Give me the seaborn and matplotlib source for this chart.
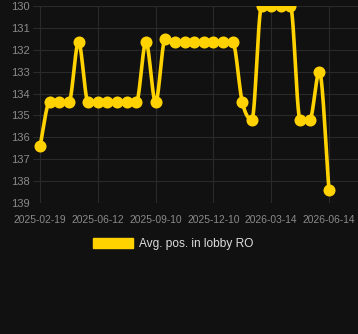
import numpy as np
import pandas as pd
import matplotlib
matplotlib.use("Agg")
import matplotlib.pyplot as plt
from matplotlib.patches import Patch
import seaborn as sns

# ---- data ----
values = [136.4, 134.4, 134.4, 134.4, 131.65, 134.4, 134.4, 134.4, 134.4, 134.4,
          134.4, 131.65, 134.4, 131.5, 131.65, 131.65, 131.65, 131.65, 131.65, 131.65,
          131.65, 134.4, 135.2, 130.0, 130.0, 130.0, 130.0, 135.2, 135.2, 133.0, 138.4]
tick_labels = ["2025-02-19", "2025-06-12", "2025-09-10", "2025-12-10", "2026-03-14", "2026-06-14"]
tick_index = [0, 6, 12, 18, 24, 30]
y_ticks = [130, 131, 132, 133, 134, 135, 136, 137, 138, 139]
series_label = "Avg. pos. in lobby RO"

BG = "#111111"
GRID = "#2a2a2a"
TXT = "#8a8a8a"
LINE = "#FFD200"


def monotone(xs, ys, n=24):
    xs = np.asarray(xs, float)
    ys = np.asarray(ys, float)
    h = np.diff(xs)
    d = np.diff(ys) / h
    m = np.zeros_like(ys)
    m[0], m[-1] = d[0], d[-1]
    for i in range(1, len(ys) - 1):
        if d[i - 1] * d[i] <= 0:
            m[i] = 0
        else:
            m[i] = (d[i - 1] + d[i]) / 2
    for i in range(len(d)):
        if d[i] == 0:
            m[i] = m[i + 1] = 0
            continue
        a, b = m[i] / d[i], m[i + 1] / d[i]
        s = a * a + b * b
        if s > 9:
            t = 3 / np.sqrt(s)
            m[i] = t * a * d[i]
            m[i + 1] = t * b * d[i]
    ox, oy = [], []
    for i in range(len(d)):
        t = np.linspace(0, 1, n, endpoint=False)
        h00 = 2 * t**3 - 3 * t**2 + 1
        h10 = t**3 - 2 * t**2 + t
        h01 = -2 * t**3 + 3 * t**2
        h11 = t**3 - t**2
        ox.extend(xs[i] + t * h[i])
        oy.extend(h00 * ys[i] + h10 * h[i] * m[i] + h01 * ys[i + 1] + h11 * h[i] * m[i + 1])
    ox.append(xs[-1])
    oy.append(ys[-1])
    return np.array(ox), np.array(oy)


idx = np.arange(len(values))
df = pd.DataFrame({"i": idx, "v": values})
sx, sy = monotone(idx, values)
smooth = pd.DataFrame({"i": sx, "v": sy})

sns.set_style("dark")
plt.rcParams["font.family"] = ["Liberation Sans", "DejaVu Sans"]

fig = plt.figure(figsize=(3.58, 3.34), dpi=100, facecolor=BG)
ax = fig.add_axes([33 / 358, 1 - 203 / 334, 1 - 33 / 358, (203 - 6) / 334])
ax.set_facecolor(BG)

sns.lineplot(data=smooth, x="i", y="v", ax=ax, color=LINE, linewidth=2.6,
             sort=False, estimator=None, zorder=3)
sns.scatterplot(data=df, x="i", y="v", ax=ax, color=LINE, s=75, edgecolor=LINE,
                linewidth=0, zorder=4)

x0 = 40
pxu = (329 - 40) / 30
ax.set_xlim((33 - x0) / pxu, (358 - x0) / pxu)
ax.set_ylim(139, 130)
ax.set_yticks(y_ticks)
ax.set_xticks(tick_index)
ax.set_xticklabels(tick_labels)
ax.set_xlabel("")
ax.set_ylabel("")
ax.grid(True, color=GRID, linewidth=0.8)
for s in ax.spines.values():
    s.set_visible(False)
ax.tick_params(axis="x", colors=GRID, labelcolor=TXT, labelsize=7.4, length=7, width=0.8, pad=1.5)
ax.tick_params(axis="y", colors=GRID, labelcolor=TXT, labelsize=8.0, length=0, pad=2.5)

fig.legend(handles=[Patch(facecolor=LINE, edgecolor=LINE, label=series_label)],
           loc="center", bbox_to_anchor=(173 / 358, 1 - 244 / 334), frameon=False,
           fontsize=8.6, labelcolor="#dddddd", handlelength=3.3, handleheight=1.0,
           handletextpad=0.5)

fig.savefig("out.png", dpi=100, facecolor=BG)
